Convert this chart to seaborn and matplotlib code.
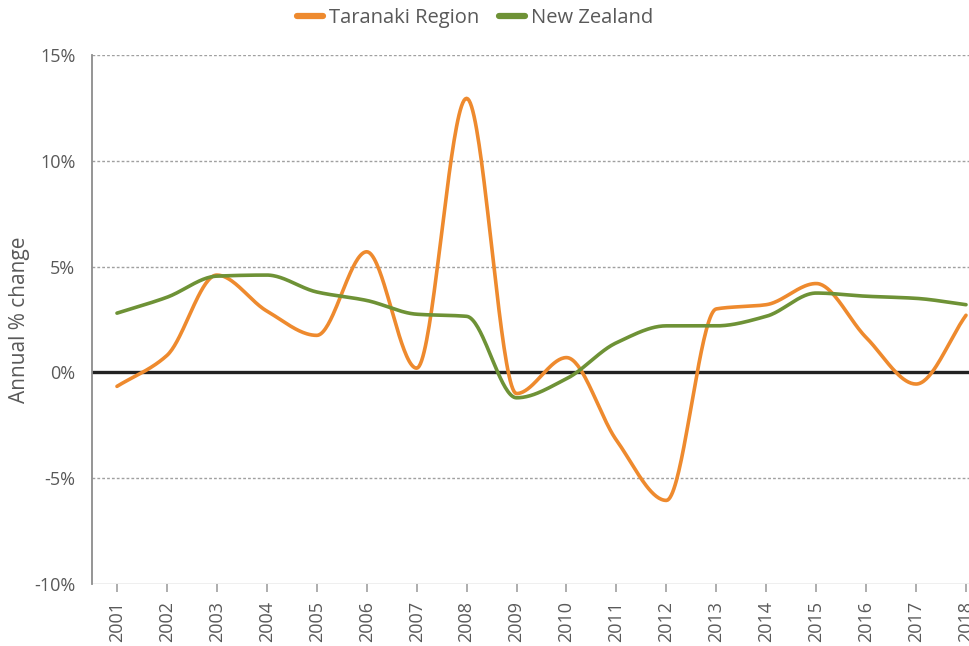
import numpy as np
import pandas as pd
import matplotlib
matplotlib.use("Agg")
import matplotlib.pyplot as plt
from matplotlib.lines import Line2D
import seaborn as sns

years = list(range(2001, 2019))
taranaki = [-0.66, 0.8, 4.6, 2.9, 1.75, 5.7, 0.2, 12.95, -1.0, 0.7, -3.2, -6.05,
            3.0, 3.2, 4.2, 1.65, -0.55, 2.7]
new_zealand = [2.8, 3.55, 4.55, 4.6, 3.8, 3.4, 2.75, 2.65, -1.2, -0.3, 1.4, 2.2,
               2.2, 2.65, 3.75, 3.6, 3.5, 3.2]
series_names = ["Taranaki Region", "New Zealand"]
colors = ["#EE8A2E", "#6E9236"]
y_ticks = [-10, -5, 0, 5, 10, 15]


def pchip(x, y, n=40):
    """Monotone cubic (Fritsch-Carlson) smoothing used only for drawing."""
    x = np.asarray(x, float)
    y = np.asarray(y, float)
    h = np.diff(x)
    d = np.diff(y) / h
    m = np.zeros_like(y)
    for k in range(1, len(y) - 1):
        if d[k - 1] * d[k] <= 0:
            m[k] = 0.0
        else:
            w1 = 2 * h[k] + h[k - 1]
            w2 = h[k] + 2 * h[k - 1]
            m[k] = (w1 + w2) / (w1 / d[k - 1] + w2 / d[k])
    m[0] = d[0]
    m[-1] = d[-1]
    xs, ys = [], []
    for k in range(len(x) - 1):
        t = np.linspace(0, 1, n, endpoint=(k == len(x) - 2))
        h00 = 2 * t**3 - 3 * t**2 + 1
        h10 = t**3 - 2 * t**2 + t
        h01 = -2 * t**3 + 3 * t**2
        h11 = t**3 - t**2
        xs.append(x[k] + t * h[k])
        ys.append(h00 * y[k] + h10 * h[k] * m[k] + h01 * y[k + 1] + h11 * h[k] * m[k + 1])
    return np.concatenate(xs), np.concatenate(ys)


frames = []
for name, vals in zip(series_names, [taranaki, new_zealand]):
    sx, sy = pchip(years, vals)
    frames.append(pd.DataFrame({"year": sx, "value": sy, "series": name}))
df = pd.concat(frames, ignore_index=True)

sns.set_style("white")
plt.rcParams["font.family"] = ["Open Sans", "DejaVu Sans"]
text_color = "#595959"

fig = plt.figure(figsize=(9.69, 6.46), dpi=100)
ax = fig.add_axes([92 / 969, 1 - 584 / 646, 1 - 92 / 969, (584 - 55) / 646])

# gridlines
for yv in [-5, 5, 10, 15]:
    ax.axhline(yv, color="#a0a0a0", lw=1.0, ls=(0, (2, 1.5)), zorder=1)
ax.axhline(-10, color="#b0b0b0", lw=1.0, zorder=1)
ax.axhline(0, color="#222222", lw=2.4, zorder=2)

sns.lineplot(data=df, x="year", y="value", hue="series", palette=colors,
             hue_order=series_names, sort=False, estimator=None, lw=2.6,
             ax=ax, legend=False, zorder=3)

ax.set_xlim(2000.5, 2018.06)
ax.set_ylim(-10, 15)
ax.set_yticks(y_ticks)
ax.set_yticklabels([f"{v}%" for v in y_ticks])
ax.set_xticks(years)
ax.set_xticklabels([str(y) for y in years], rotation=90)
ax.tick_params(axis="y", length=0, pad=12, labelsize=13, labelcolor=text_color)
ax.tick_params(axis="x", length=6, width=1.2, color="#a0a0a0", direction="out",
               pad=6, labelsize=13, labelcolor=text_color, bottom=True)
for s in ["top", "right", "bottom"]:
    ax.spines[s].set_visible(False)
ax.spines["left"].set_color("#8c8c8c")
ax.spines["left"].set_linewidth(1.3)
ax.set_xlabel("")
ax.set_ylabel("Annual % change", fontsize=15, color=text_color)
ax.yaxis.set_label_coords(-62 / 877, 0.5)

handles = [Line2D([0], [0], color=c, lw=4.5) for c in colors]
fig.legend(handles, series_names, loc="center", bbox_to_anchor=(475 / 969, 1 - 18 / 646),
           ncol=2, frameon=False, fontsize=14.5, handlelength=1.3, handletextpad=0.3,
           columnspacing=0.95, labelcolor=text_color)

fig.savefig("out.png", dpi=100)
